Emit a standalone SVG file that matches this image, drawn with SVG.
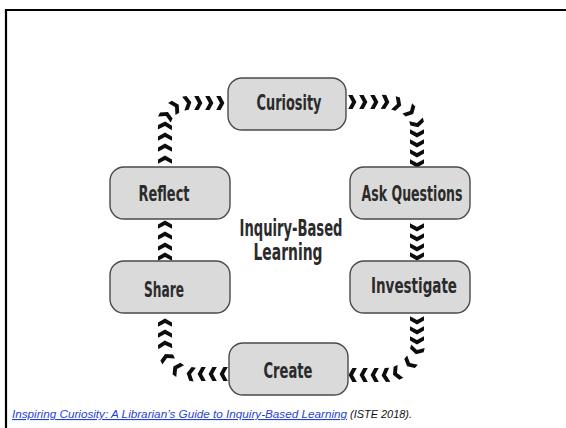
<svg xmlns="http://www.w3.org/2000/svg" width="566" height="428" viewBox="0 0 566 428">
  <style>
    .box { fill: #dadada; stroke: #4a4a4a; stroke-width: 1.4; }
    .lbl { font-family: "DejaVu Sans Condensed", "Liberation Sans Narrow", "DejaVu Sans", sans-serif; font-stretch: condensed; font-weight: bold; font-size: 22px; fill: #2b2b2b; text-anchor: middle; }
    .title { font-family: "DejaVu Sans Condensed", "Liberation Sans Narrow", "DejaVu Sans", sans-serif; font-stretch: condensed; font-weight: bold; font-size: 23px; fill: #2b2b2b; text-anchor: middle; }
    .chain { fill: none; stroke: none; marker-start: url(#chev); marker-mid: url(#chev); marker-end: url(#chev); }
    .cap { font-family: "Liberation Sans", Arial, sans-serif; font-style: italic; font-size: 11px; }
  </style>
  <defs>
    <!-- bold chevron pointing along the path direction -->
    <marker id="chev" markerUnits="userSpaceOnUse" markerWidth="18" markerHeight="18" viewBox="-9 -9 18 18" refX="0" refY="0" orient="auto">
      <polygon points="-3.8,-7 0.6,-7 4.4,0 0.6,7 -3.8,7 0,0" fill="#0d0d0d"/>
    </marker>
  </defs>

  <rect width="566" height="428" fill="#ffffff"/>
  <!-- page frame -->
  <line x1="5" y1="10" x2="566" y2="10" stroke="#000" stroke-width="2.2"/>
  <line x1="6" y1="9" x2="6" y2="428" stroke="#000" stroke-width="2.2"/>

  <!-- connectors -->
  <g id="connectors">
    <polyline class="chain" points="165,160 165,148 165,137 165,126 166,116 175,107 187,103 198,103 209,103 220,103"/>
    <polyline class="chain" points="352,102 363,102 374,102 385,102 397,104 410,111 417,123 417,133 417,143 417,153 417,163"/>
    <polyline class="chain" points="417,227 417,237 417,247 417,256"/>
    <polyline class="chain" points="417,320 417,330 417,340 417,350 410,363 397,373 386,375 375,375 364,375 353,375"/>
    <polyline class="chain" points="224,374 213,374 202,374 191,374 177,369 167,358 165,345 165,334 165,323"/>
    <polyline class="chain" points="165,257 165,247 165,236 165,225"/>
  </g>

  <g id="curiosity">
    <rect class="box" x="228" y="78" width="118" height="52" rx="14"/>
    <text class="lbl" x="289" y="110" textLength="65" lengthAdjust="spacingAndGlyphs">Curiosity</text>
  </g>
  <g id="ask-questions">
    <rect class="box" x="350" y="167" width="120" height="52" rx="14"/>
    <text class="lbl" x="412" y="201" textLength="101" lengthAdjust="spacingAndGlyphs">Ask Questions</text>
  </g>
  <g id="investigate">
    <rect class="box" x="350" y="261" width="120" height="52" rx="14"/>
    <text class="lbl" x="414" y="293" textLength="86" lengthAdjust="spacingAndGlyphs">Investigate</text>
  </g>
  <g id="create">
    <rect class="box" x="229" y="343" width="119" height="52" rx="14"/>
    <text class="lbl" x="288" y="378" textLength="49" lengthAdjust="spacingAndGlyphs">Create</text>
  </g>
  <g id="share">
    <rect class="box" x="110" y="261" width="120" height="52" rx="14"/>
    <text class="lbl" x="164" y="297" textLength="40" lengthAdjust="spacingAndGlyphs">Share</text>
  </g>
  <g id="reflect">
    <rect class="box" x="110" y="167" width="120" height="52" rx="14"/>
    <text class="lbl" x="164" y="201" textLength="51" lengthAdjust="spacingAndGlyphs">Reflect</text>
  </g>
  <g id="center-title">
    <text class="title" x="291" y="236" textLength="103" lengthAdjust="spacingAndGlyphs">Inquiry-Based</text>
    <text class="title" x="288" y="260" textLength="69" lengthAdjust="spacingAndGlyphs">Learning</text>
  </g>

  <!-- source line -->
  <text class="cap" x="12" y="418" fill="#1f3fd8" text-decoration="underline" textLength="335" lengthAdjust="spacingAndGlyphs">Inspiring Curiosity: A Librarian’s Guide to Inquiry-Based Learning</text>
  <text class="cap" x="350" y="418" fill="#111" textLength="62" lengthAdjust="spacingAndGlyphs">(ISTE 2018).</text>
</svg>
